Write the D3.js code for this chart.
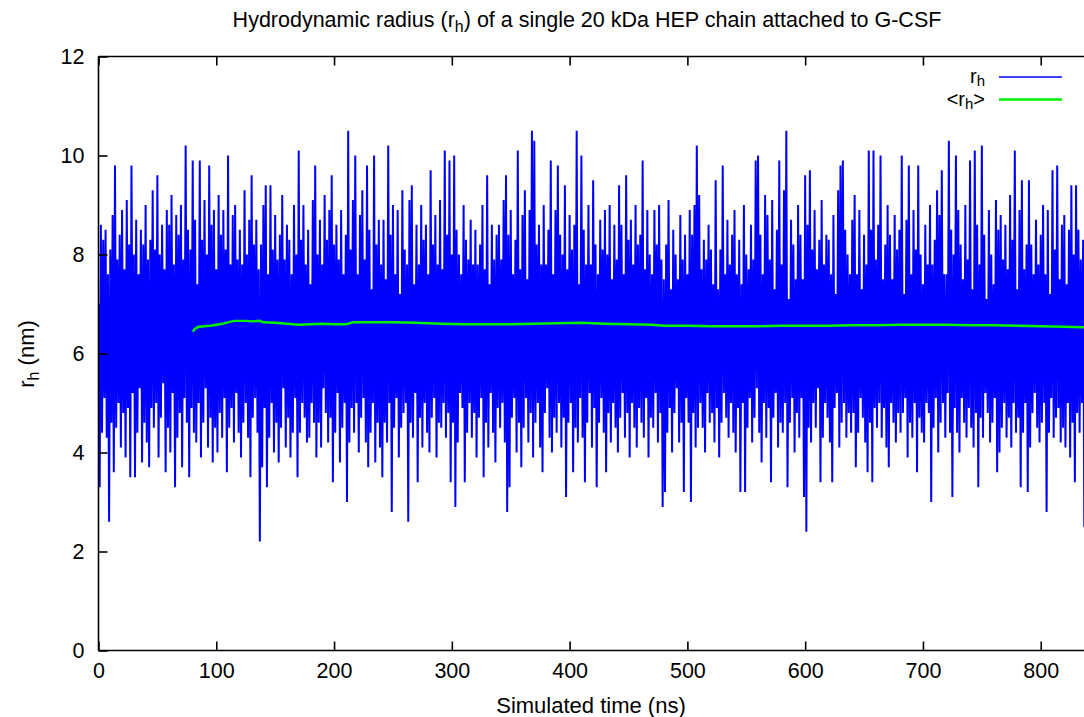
<!DOCTYPE html>
<html>
<head>
<meta charset="utf-8">
<script src="https://cdn.jsdelivr.net/npm/d3@7"></script>
<style>
  html, body { margin: 0; padding: 0; background: #fff; }
  text { font-family: "Liberation Sans", Arial, Helvetica, sans-serif; fill: #000; }
</style>
</head>
<body>
<svg id="chart" width="1084" height="717"></svg>
<script>
// ---- data ----
const titleMain = "Hydrodynamic radius (r";
const titleSub = "h";
const titleRest = ") of a single 20 kDa HEP chain attached to G-CSF";
const xLabel = "Simulated time (ns)";
const xTicks = [0, 100, 200, 300, 400, 500, 600, 700, 800];
const yTicks = [0, 2, 4, 6, 8, 10, 12];
const sampleStepNs = 1; // one sample per ns of simulated time

// instantaneous hydrodynamic radius r_h (nm)
const rh = [
7.0,3.3,8.6,4.4,8.3,5.1,8.5,4.3,7.6,2.6,8.1,4.6,8.8,3.6,9.8,4.5,7.9,5.0,8.4,4.1,
8.9,4.8,7.7,3.9,9.1,4.9,8.2,3.5,9.8,5.2,8.0,3.5,8.7,4.4,7.6,5.3,8.5,3.8,8.2,4.6,
9.0,4.2,7.9,3.7,8.3,4.9,9.3,4.5,8.1,5.0,9.6,3.9,8.0,4.7,8.6,5.4,7.7,3.6,8.9,4.5,
8.6,4.0,9.2,5.2,7.8,3.3,8.8,4.3,8.4,4.8,9.0,3.7,7.9,5.1,10.2,4.6,8.5,3.5,8.1,4.9,
9.9,4.4,8.7,4.2,7.4,5.0,9.9,3.9,8.3,4.6,9.1,5.3,8.0,4.1,9.8,4.7,8.6,3.8,8.9,4.5,
7.7,4.0,9.2,4.8,8.4,4.3,8.9,5.1,8.1,3.6,10.0,4.5,7.8,4.9,8.8,4.2,9.0,5.2,7.9,4.4,
8.5,3.9,7.8,4.6,9.3,5.0,8.0,4.3,8.7,3.5,9.6,4.7,8.2,5.1,8.7,4.4,7.7,2.2,8.2,3.7,
9.0,4.9,9.4,3.3,7.6,4.3,9.4,5.0,8.1,4.0,8.8,4.6,7.9,3.8,8.4,4.5,9.2,5.3,7.9,4.1,
8.6,4.7,8.3,3.9,7.6,4.4,9.0,5.1,8.0,3.5,10.1,4.4,8.3,5.0,9.0,4.7,7.8,4.2,8.5,4.3,
7.4,5.0,9.1,4.6,9.8,3.9,8.0,4.6,8.7,4.1,7.8,5.3,9.2,4.8,8.3,4.2,8.9,4.7,9.6,3.4,
8.2,4.4,8.6,5.2,7.9,3.8,8.9,4.5,7.6,5.0,8.4,3.0,10.5,4.2,8.1,4.9,9.1,4.4,10.0,5.0,
7.6,4.0,8.8,4.7,9.3,5.1,7.9,4.2,9.8,3.7,8.5,4.4,7.3,5.0,10.0,3.8,8.2,4.6,8.7,4.1,
7.8,3.5,8.7,4.6,7.5,4.2,10.2,5.0,8.4,2.8,9.0,4.5,7.6,5.1,8.9,3.9,7.2,4.5,9.3,4.8,
8.1,5.0,7.8,2.6,9.1,4.6,9.4,4.3,7.4,5.2,8.6,3.4,7.8,4.7,9.0,4.1,8.3,5.0,8.6,4.4,
7.6,4.0,9.7,4.7,8.2,5.1,8.8,3.9,7.8,4.6,9.1,4.5,7.7,5.0,10.1,4.3,8.4,4.8,9.9,3.4,
8.0,4.6,10.0,2.9,8.5,4.2,8.0,5.2,7.6,4.9,9.0,3.4,8.3,4.4,7.9,5.0,8.7,4.3,7.8,4.8,
8.5,3.9,7.8,4.7,8.2,5.1,9.0,3.5,7.7,4.6,9.6,4.1,7.4,5.2,8.6,4.4,7.9,3.8,8.4,4.9,
8.6,4.5,7.9,5.0,9.1,4.2,9.6,2.8,8.4,3.3,8.9,4.7,7.6,5.1,8.3,4.0,10.1,4.6,7.7,3.7,
8.8,4.5,9.3,5.1,7.5,4.2,8.9,4.8,10.5,3.9,10.3,4.6,8.2,5.0,8.6,4.1,7.8,3.6,9.0,4.8,
7.8,5.3,8.5,4.3,9.9,4.0,7.6,4.7,8.9,4.4,9.8,5.0,8.4,4.1,8.0,4.7,9.4,3.1,7.7,4.6,
8.8,5.0,8.1,3.6,8.6,4.5,10.5,4.2,7.4,5.1,10.0,4.3,8.5,3.4,7.8,4.6,9.0,5.2,7.8,4.1,
9.5,4.9,8.2,3.3,7.6,4.6,8.7,5.1,8.1,4.4,8.9,3.6,8.0,4.8,9.0,4.2,7.5,5.0,8.6,4.5,
7.9,4.0,9.4,4.7,8.6,5.2,7.6,4.3,9.6,4.8,8.3,3.9,8.7,5.0,7.8,4.5,9.0,4.1,8.2,4.9,
8.4,4.6,9.9,4.3,7.7,5.1,8.9,3.9,8.0,4.7,7.6,4.5,8.9,5.2,8.2,4.2,9.0,4.8,7.9,2.9,
7.5,3.2,8.2,4.4,9.1,4.9,7.3,4.0,8.5,4.8,8.0,5.3,7.5,4.2,8.8,4.6,7.9,3.2,8.4,5.1,
7.6,4.6,8.9,3.0,8.4,4.8,9.0,4.1,10.2,4.5,9.2,5.0,7.7,4.5,8.3,4.0,7.9,5.2,8.6,4.6,
8.1,4.8,7.4,4.2,9.5,4.9,7.3,3.9,8.1,4.6,9.8,5.2,7.6,4.7,8.7,4.3,7.8,5.0,8.4,4.4,
8.9,4.0,7.6,4.9,8.3,3.2,7.4,5.0,9.0,3.2,8.0,4.5,7.7,5.1,8.6,4.2,7.9,4.7,9.9,5.3,
10.0,4.4,8.4,3.8,7.6,5.0,9.2,4.3,8.8,4.9,7.9,3.4,9.1,4.7,7.3,5.2,8.5,4.1,9.9,4.6,
7.8,4.4,9.3,5.0,10.5,3.3,7.1,4.6,8.7,5.1,8.2,4.0,7.5,4.8,9.0,4.3,8.4,5.1,7.5,3.1,
9.6,2.4,8.6,4.5,9.7,4.2,8.1,5.0,8.9,4.5,7.7,5.3,8.3,3.4,9.1,4.3,7.8,5.0,8.4,4.7,
8.3,4.2,7.6,3.4,8.8,4.9,7.2,5.2,9.3,4.1,9.8,4.6,9.9,5.0,8.5,4.3,8.0,4.8,7.6,4.4,
8.7,4.8,9.2,3.7,7.6,4.4,8.9,5.1,7.3,4.7,8.4,4.2,7.8,3.6,10.1,4.6,8.5,3.4,10.1,4.9,
7.9,4.5,8.6,5.0,10.0,4.3,7.5,4.9,8.2,4.1,9.0,3.7,8.4,5.0,7.5,4.6,8.8,4.2,8.1,4.8,
8.5,4.4,10.0,4.8,7.2,5.1,8.7,3.9,9.8,4.6,7.6,4.3,8.9,5.0,8.1,3.6,9.8,4.7,8.0,4.4,
7.4,4.2,8.6,5.0,7.8,4.8,9.0,3.0,7.8,4.5,8.3,5.1,9.3,4.0,8.8,4.6,9.7,5.0,7.6,4.3,
7.6,5.2,10.3,4.4,8.5,3.1,8.0,4.9,10.0,4.4,8.9,4.0,8.2,5.1,7.5,4.6,9.0,4.3,7.9,4.9,
9.9,4.5,7.3,4.1,10.1,4.8,8.6,3.3,7.8,4.7,10.2,4.3,8.4,5.2,7.1,4.8,8.9,4.2,8.0,4.6,
7.4,5.1,9.1,3.6,8.5,4.0,8.8,4.5,7.9,5.0,8.6,4.3,7.7,4.7,9.2,4.1,8.3,5.0,10.1,4.4,
7.3,4.7,8.9,3.3,9.5,4.4,7.7,5.0,8.2,3.2,9.5,4.1,8.2,4.8,7.6,5.2,8.7,4.5,7.8,4.2,
8.4,4.6,9.0,5.0,7.6,2.8,8.9,4.4,7.2,5.1,9.7,4.3,8.1,4.7,9.8,4.9,7.5,4.2,8.6,4.5,
8.8,4.1,7.4,5.0,8.5,3.9,9.4,4.6,8.0,3.4,9.4,4.8,8.5,4.4,7.9,5.0,8.3,2.5
];

// running average <r_h> (nm)
const avgTime = [80,82,85,90,95,100,105,110,115,120,125,130,137,140,150,160,170,180,190,200,210,216,230,250,270,290,310,330,350,370,390,410,430,450,470,480,500,520,540,560,580,600,620,640,660,680,700,720,740,760,780,800,820,837];
const avgValue = [6.44,6.50,6.54,6.55,6.56,6.58,6.60,6.63,6.66,6.66,6.66,6.65,6.66,6.63,6.62,6.60,6.58,6.59,6.60,6.59,6.59,6.63,6.63,6.63,6.62,6.60,6.59,6.59,6.59,6.60,6.61,6.62,6.60,6.59,6.58,6.56,6.56,6.55,6.55,6.55,6.56,6.56,6.56,6.57,6.57,6.58,6.58,6.58,6.57,6.57,6.56,6.55,6.54,6.53];

const legendLabels = [{main: "r", sub: "h", pre: "", post: "", color: "#0000ff"},
                      {main: "r", sub: "h", pre: "<", post: ">", color: "#00f000"}];

// ---- drawing ----
(function draw() {
const svg = d3.select("#chart");
const W = 1084, H = 717;
svg.append("rect").attr("width", W).attr("height", H).attr("fill", "#fff");

const pLeft = 98.5, pRight = 1084.3, pTop = 56.5, pBottom = 650.5;
const x = d3.scaleLinear().domain([0, 837]).range([pLeft, pRight]);
const y = d3.scaleLinear().domain([0, 12]).range([pBottom, pTop]);

const rhPts = rh.map((v, i) => [i * sampleStepNs, v]);
const line = d3.line().x(d => x(d[0])).y(d => y(d[1]));

svg.append("clipPath").attr("id", "clip").append("rect")
  .attr("x", pLeft).attr("y", pTop).attr("width", pRight - pLeft).attr("height", pBottom - pTop);

svg.append("path").datum(rhPts)
  .attr("clip-path", "url(#clip)")
  .attr("fill", "none").attr("stroke", "#0000ff").attr("stroke-width", 2.0)
  .attr("stroke-linejoin", "bevel")
  .attr("d", line);

const avgPts = avgTime.map((t, i) => [t, avgValue[i]]);
svg.append("path").datum(avgPts)
  .attr("fill", "none").attr("stroke", "#00f000").attr("stroke-width", 2.4)
  .attr("d", line);

// frame
const frame = svg.append("g").attr("stroke", "#000").attr("stroke-width", 1.6).attr("fill", "none");
frame.append("line").attr("x1", pLeft).attr("x2", pLeft).attr("y1", pTop).attr("y2", pBottom);
frame.append("line").attr("x1", pLeft).attr("x2", W).attr("y1", pBottom).attr("y2", pBottom);
frame.append("line").attr("x1", pLeft).attr("x2", W).attr("y1", pTop).attr("y2", pTop);

// axes with inward ticks
const tickLen = 9;
const fs = 21.5;
const xAxisB = d3.axisBottom(x).tickValues(xTicks).tickSize(-tickLen).tickPadding(12).tickFormat(d3.format("d"));
const gxb = svg.append("g").attr("transform", `translate(0,${pBottom})`).call(xAxisB);
const xAxisT = d3.axisTop(x).tickValues(xTicks).tickSize(-tickLen).tickFormat("");
const gxt = svg.append("g").attr("transform", `translate(0,${pTop})`).call(xAxisT);
const yAxis = d3.axisLeft(y).tickValues(yTicks).tickSize(-tickLen).tickPadding(14).tickFormat(d3.format("d"));
const gy = svg.append("g").attr("transform", `translate(${pLeft},0)`).call(yAxis);

[gxb, gxt, gy].forEach(g => {
  g.select(".domain").remove();
  g.selectAll(".tick line").attr("stroke", "#000").attr("stroke-width", 1.6);
  g.selectAll(".tick text").attr("font-size", fs).attr("font-family", "Liberation Sans, Arial, sans-serif").attr("fill", "#000");
});

// title
const title = svg.append("text").attr("x", 587).attr("y", 27).attr("text-anchor", "middle").attr("font-size", 21.5);
title.append("tspan").text(titleMain);
title.append("tspan").attr("dy", 5).attr("font-size", 16).text(titleSub);
title.append("tspan").attr("dy", -5).text(titleRest);

// x label
svg.append("text").attr("x", 591).attr("y", 713).attr("text-anchor", "middle").attr("font-size", 22).text(xLabel);

// y label
const yl = svg.append("text").attr("transform", "translate(34,354) rotate(-90)").attr("text-anchor", "middle").attr("font-size", 22);
yl.append("tspan").text("r");
yl.append("tspan").attr("dy", 5).attr("font-size", 16).text("h");
yl.append("tspan").attr("dy", -5).text(" (nm)");

// legend
const legY = [77, 99.5];
legendLabels.forEach((L, i) => {
  const t = svg.append("text").attr("x", 985).attr("y", legY[i] + 6).attr("text-anchor", "end").attr("font-size", 20);
  t.append("tspan").text(L.pre + L.main);
  t.append("tspan").attr("dy", 3).attr("font-size", 15).text(L.sub);
  t.append("tspan").attr("dy", -3).text(L.post);
  svg.append("line").attr("x1", 999).attr("x2", 1062).attr("y1", legY[i]).attr("y2", legY[i])
    .attr("stroke", L.color).attr("stroke-width", i === 0 ? 1.6 : 2.4);
});
})();
</script>
</body>
</html>
